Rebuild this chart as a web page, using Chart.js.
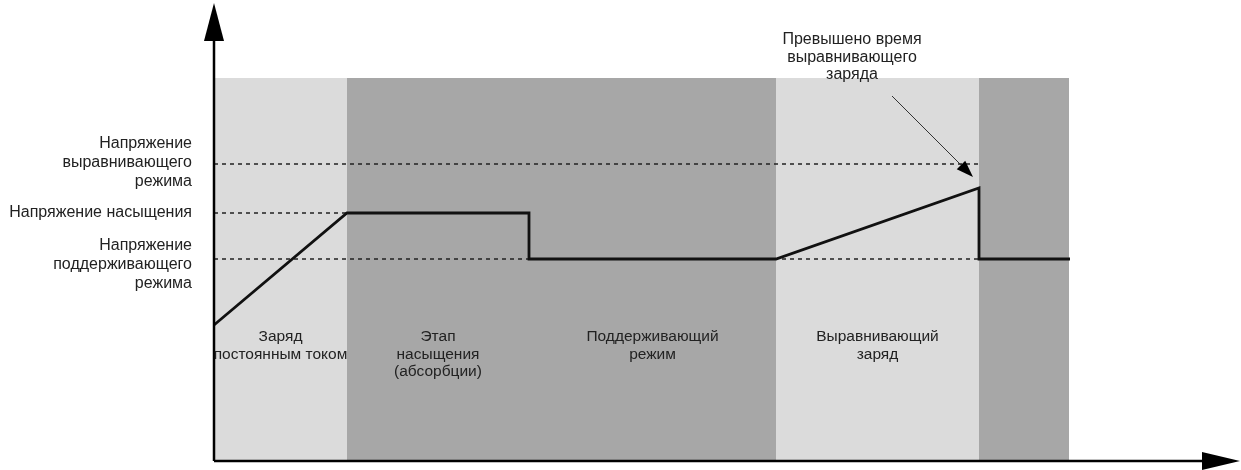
<!DOCTYPE html>
<html>
<head>
<meta charset="utf-8">
<script src="https://cdn.jsdelivr.net/npm/chart.js@4"></script>
<style>
  html, body { margin: 0; padding: 0; background: #fff; }
  #wrap { width: 1241px; height: 470px; }
</style>
</head>
<body>
<div id="wrap"><canvas id="chart"></canvas></div>
<script>
// charging curve (time, voltage) in abstract units
const curveX = [0, 13.3, 31.5, 31.5, 56.2, 76.5, 76.5, 85.6];
const curveY = [13.6, 24.8, 24.8, 20.2, 20.2, 27.3, 20.2, 20.2];

// reference voltage levels (dashed lines)
const levelNames = ['equalize', 'absorption', 'float'];
const levelValues = [29.7, 24.8, 20.2];
const levelEnds = [76.5, 13.3, 85.6];
const levelLabels = [
    ['Напряжение', 'выравнивающего', 'режима'],
    ['Напряжение насыщения'],
    ['Напряжение', 'поддерживающего', 'режима']
];

// stage bands
const stageBounds = [0, 13.3, 31.5, 56.2, 76.5, 85.5];
const stageShade = ['light', 'dark', 'dark', 'light', 'dark'];
const stageLabels = [
    ['Заряд', 'постоянным током'],
    ['Этап', 'насыщения', '(абсорбции)'],
    ['Поддерживающий', 'режим'],
    ['Выравнивающий', 'заряд'],
    []
];
const bandTop = 38.3;

// annotation
const noteText = ['Превышено время', 'выравнивающего', 'заряда'];
const noteFrom = [67.8, 36.5];
const noteTo = [75.9, 28.4];

const FONT = '16px "Liberation Sans", Arial, sans-serif';
const FONT_STAGE = '15.5px "Liberation Sans", Arial, sans-serif';
const shades = { light: '#dbdbdb', dark: '#a7a7a7' };

// background bands + axes + texts
const diagramPlugin = {
    id: 'diagram',
    beforeDatasetsDraw(chart) {
        const { ctx, scales: { x, y } } = chart;
        ctx.save();
        for (let i = 0; i < stageShade.length; i++) {
            const x0 = x.getPixelForValue(stageBounds[i]);
            const x1 = x.getPixelForValue(stageBounds[i + 1]);
            const y0 = y.getPixelForValue(bandTop);
            const y1 = y.getPixelForValue(0);
            ctx.fillStyle = shades[stageShade[i]];
            ctx.fillRect(x0, y0, x1 - x0, y1 - y0);
        }
        ctx.restore();
    },
    afterDatasetsDraw(chart) {
        const { ctx, chartArea, scales: { x, y } } = chart;
        const ox = x.getPixelForValue(0);
        const oy = y.getPixelForValue(0);
        ctx.save();

        // axes
        ctx.strokeStyle = '#000';
        ctx.fillStyle = '#000';
        ctx.lineWidth = 2.5;
        ctx.beginPath();
        ctx.moveTo(ox, oy);
        ctx.lineTo(ox, chartArea.top + 36);
        ctx.moveTo(ox, oy);
        ctx.lineTo(chartArea.right - 36, oy);
        ctx.stroke();
        ctx.beginPath();
        ctx.moveTo(ox, chartArea.top);
        ctx.lineTo(ox - 10, chartArea.top + 38);
        ctx.lineTo(ox + 10, chartArea.top + 38);
        ctx.closePath();
        ctx.fill();
        ctx.beginPath();
        ctx.moveTo(chartArea.right, oy);
        ctx.lineTo(chartArea.right - 38, oy - 9);
        ctx.lineTo(chartArea.right - 38, oy + 9);
        ctx.closePath();
        ctx.fill();

        // annotation arrow
        const ax0 = x.getPixelForValue(noteFrom[0]), ay0 = y.getPixelForValue(noteFrom[1]);
        const ax1 = x.getPixelForValue(noteTo[0]), ay1 = y.getPixelForValue(noteTo[1]);
        const ang = Math.atan2(ay1 - ay0, ax1 - ax0);
        ctx.lineWidth = 1;
        ctx.strokeStyle = '#333';
        ctx.beginPath();
        ctx.moveTo(ax0, ay0);
        ctx.lineTo(ax1 - 14 * Math.cos(ang), ay1 - 14 * Math.sin(ang));
        ctx.stroke();
        ctx.beginPath();
        ctx.moveTo(ax1, ay1);
        ctx.lineTo(ax1 - 17 * Math.cos(ang) + 6 * Math.sin(ang), ay1 - 17 * Math.sin(ang) - 6 * Math.cos(ang));
        ctx.lineTo(ax1 - 17 * Math.cos(ang) - 6 * Math.sin(ang), ay1 - 17 * Math.sin(ang) + 6 * Math.cos(ang));
        ctx.closePath();
        ctx.fill();

        // texts
        ctx.font = FONT;
        ctx.fillStyle = '#222';
        ctx.textBaseline = 'middle';

        // level labels, right aligned left of the y axis
        ctx.textAlign = 'right';
        levelLabels.forEach((lines, i) => {
            const cy = y.getPixelForValue(levelValues[i]);
            const start = lines.length === 1 ? cy : cy - 20 + (i === 2 ? 7 : 0);
            lines.forEach((t, k) => ctx.fillText(t, ox - 22, start + k * 19));
        });

        // annotation text
        ctx.textAlign = 'center';
        const nx = x.getPixelForValue(63.8);
        noteText.forEach((t, k) => ctx.fillText(t, nx, 40 + k * 17.5));

        // stage labels
        ctx.font = FONT_STAGE;
        stageLabels.forEach((lines, i) => {
            const cx = (x.getPixelForValue(stageBounds[i]) + x.getPixelForValue(stageBounds[i + 1])) / 2;
            lines.forEach((t, k) => ctx.fillText(t, cx, y.getPixelForValue(12.4) + k * 17.5));
        });

        ctx.restore();
    }
};

const datasets = levelNames.map((name, i) => ({
    label: name,
    data: [{ x: 0, y: levelValues[i] }, { x: levelEnds[i], y: levelValues[i] }],
    borderColor: '#222',
    borderWidth: 1.5,
    borderDash: [4, 4],
    pointRadius: 0,
    order: 2
}));
datasets.push({
    label: 'curve',
    data: curveX.map((v, i) => ({ x: v, y: curveY[i] })),
    borderColor: '#111',
    borderWidth: 2.8,
    pointRadius: 0,
    tension: 0,
    order: 1
});

new Chart(document.getElementById('chart'), {
    type: 'line',
    data: { datasets },
    options: {
        responsive: true,
        maintainAspectRatio: false,
        animation: false,
        layout: { padding: { left: 214, right: 1, top: 3, bottom: 9 } },
        plugins: { legend: { display: false }, tooltip: { enabled: false } },
        scales: {
            x: { type: 'linear', display: false, min: 0, max: 102.6 },
            y: { type: 'linear', display: false, min: 0, max: 45.8 }
        }
    },
    plugins: [diagramPlugin]
});
</script>
</body>
</html>
